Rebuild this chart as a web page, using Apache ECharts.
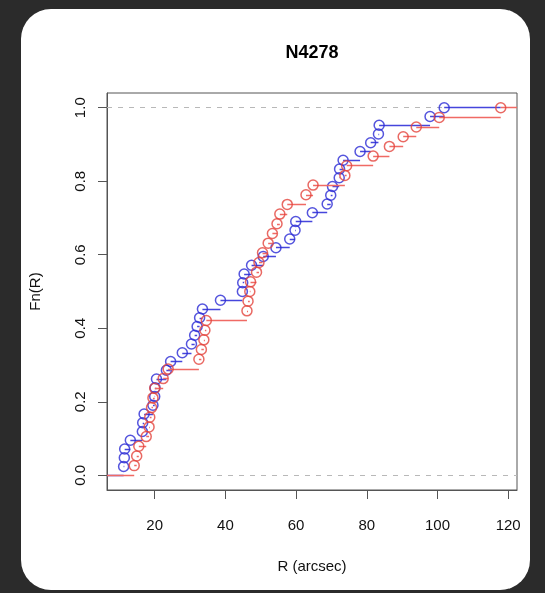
<!DOCTYPE html>
<html>
<head>
<meta charset="utf-8">
<script src="https://cdn.jsdelivr.net/npm/echarts@6/dist/echarts.min.js"></script>
<style>
  html, body { margin: 0; padding: 0; width: 545px; height: 593px; background: #2b2b2b; overflow: hidden; }
  #card { position: absolute; left: 21px; top: 9px; width: 509px; height: 581px; background: #ffffff; border-radius: 30px; }
  #chart { position: absolute; left: 0; top: 0; width: 545px; height: 593px; }
</style>
</head>
<body>
<div id="card"></div>
<div id="chart"></div>
<script>
// Radii (arcsec) of the two samples
const blueR = [11.2, 11.4, 11.5, 13.1, 16.5, 16.6, 17.0, 19.5, 20.0, 20.1, 20.5, 23.3, 24.5, 27.8, 30.4, 31.3, 32.0, 32.7, 33.5, 38.6,
  44.8, 44.9, 45.3, 47.4, 50.7, 54.3, 58.2, 59.7, 59.9, 64.6, 68.8, 69.8, 70.3, 72.2, 72.3, 73.3, 78.1, 81.1, 83.3, 83.5, 97.9, 101.9];
const redR = [14.2, 14.9, 15.5, 17.6, 18.4, 18.6, 19.1, 19.5, 20.0, 22.4, 23.8, 32.5, 33.2, 33.9, 34.2, 34.6, 46.1, 46.4, 46.9, 47.1,
  48.8, 49.5, 50.5, 52.1, 53.3, 54.6, 55.4, 57.5, 62.8, 64.8, 73.8, 74.3, 81.8, 86.4, 90.3, 94.0, 100.5, 117.9];
const xTicks = [20, 40, 60, 80, 100, 120];
const yTicks = [0, 0.2, 0.4, 0.6, 0.8, 1.0];
const titleText = 'N4278';
const xName = 'R (arcsec)';
const yName = 'Fn(R)';

const X_MIN = 6.5, X_MAX = 122.5, Y_MIN = -0.04, Y_MAX = 1.04;

function ecdfPoints(r) {
  const n = r.length;
  return r.map((v, i) => [v, (i + 1) / n]);
}
function ecdfSegments(r, endX) {
  const pts = ecdfPoints(r);
  const segs = [[[X_MIN, 0], [pts[0][0], 0]]];
  for (let i = 0; i < pts.length; i++) {
    const x2 = i < pts.length - 1 ? pts[i + 1][0] : endX;
    segs.push([[pts[i][0], pts[i][1]], [x2, pts[i][1]]]);
  }
  return segs.map(c => ({ coords: c }));
}

const BLUE = '#2a2ad4', BLUE_LINE = '#4646dc';
const RED = '#e4443c', RED_LINE = '#f06a64';
const FONT = 'Liberation Sans, Arial, sans-serif';

const chart = echarts.init(document.getElementById('chart'), null, { renderer: 'canvas' });
chart.setOption({
  backgroundColor: 'transparent',
  animation: false,
  graphic: [{
    type: 'text', x: 312, y: 53,
    style: { text: titleText, align: 'center', verticalAlign: 'middle', font: 'bold 18px ' + FONT, fill: '#000' }
  }],
  grid: { left: 107, right: 28, top: 93, height: 397, show: true, borderColor: '#555', borderWidth: 1, backgroundColor: 'transparent' },
  xAxis: {
    type: 'value', min: X_MIN, max: X_MAX,
    axisLine: { show: true, onZero: false, lineStyle: { color: '#555', width: 1 } },
    axisTick: { show: true, inside: false, length: 9, customValues: xTicks, lineStyle: { color: '#555', width: 1 } },
    axisLabel: { customValues: xTicks, margin: 28, fontSize: 15, fontFamily: FONT, color: '#111' },
    splitLine: { show: false },
    name: xName, nameLocation: 'middle', nameGap: 69,
    nameTextStyle: { fontSize: 15, fontFamily: FONT, color: '#111' }
  },
  yAxis: {
    type: 'value', min: Y_MIN, max: Y_MAX,
    axisLine: { show: true, onZero: false, lineStyle: { color: '#555', width: 1 } },
    axisTick: { show: true, inside: false, length: 9, customValues: yTicks, lineStyle: { color: '#555', width: 1 } },
    axisLabel: { customValues: yTicks, rotate: 90, margin: 19, fontSize: 15, fontFamily: FONT, color: '#111',
      formatter: v => Number(v).toFixed(1) },
    splitLine: { show: false },
    name: yName, nameLocation: 'middle', nameGap: 64, nameRotate: 90,
    nameTextStyle: { fontSize: 15, fontFamily: FONT, color: '#111' }
  },
  series: [
    {
      type: 'lines', coordinateSystem: 'cartesian2d', silent: true, z: 1,
      data: [{ coords: [[X_MIN, 0], [X_MAX, 0]] }, { coords: [[X_MIN, 1], [X_MAX, 1]] }],
      lineStyle: { color: '#b8b8b8', width: 1.2, type: [5, 6], opacity: 1 }
    },
    {
      type: 'lines', coordinateSystem: 'cartesian2d', silent: true, z: 2,
      data: ecdfSegments(blueR, 117.9),
      lineStyle: { color: BLUE_LINE, width: 1.3, opacity: 1 }
    },
    {
      type: 'scatter', z: 3, silent: true,
      data: ecdfPoints(blueR), symbol: 'circle', symbolSize: 10,
      itemStyle: { color: 'rgba(0,0,0,0)', borderColor: BLUE, borderWidth: 1.5 }
    },
    {
      type: 'lines', coordinateSystem: 'cartesian2d', silent: true, z: 4,
      data: ecdfSegments(redR, X_MAX),
      lineStyle: { color: RED_LINE, width: 1.3, opacity: 1 }
    },
    {
      type: 'scatter', z: 5, silent: true,
      data: ecdfPoints(redR), symbol: 'circle', symbolSize: 10,
      itemStyle: { color: 'rgba(0,0,0,0)', borderColor: RED, borderWidth: 1.5 }
    }
  ]
});
</script>
</body>
</html>
